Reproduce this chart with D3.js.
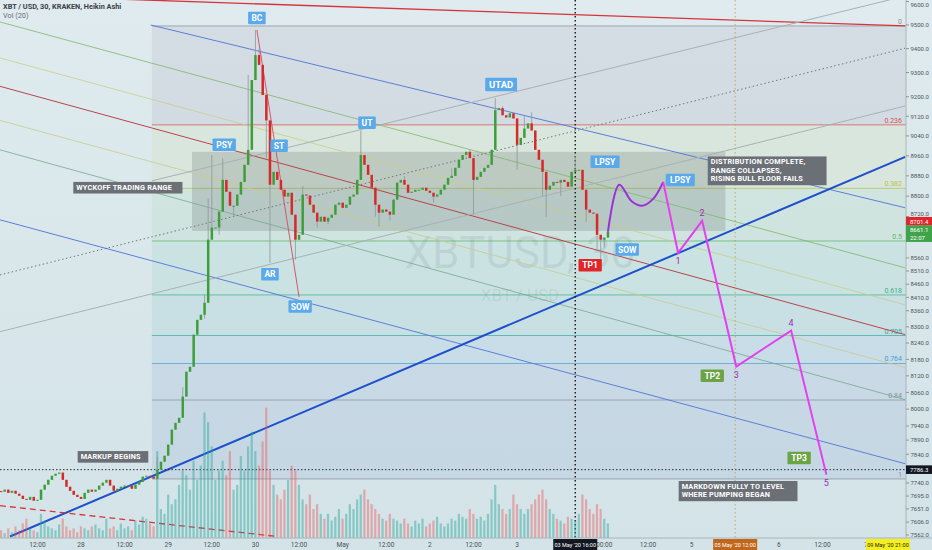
<!DOCTYPE html>
<html><head><meta charset="utf-8">
<script src="https://cdn.jsdelivr.net/npm/d3@7"></script>
<style>
html,body{margin:0;padding:0;background:#d8e6ea;overflow:hidden}
svg{display:block;font-family:Roboto,"Noto Sans",sans-serif}
</style></head><body>
<svg id="c" width="932" height="550"></svg>
<script>
// ---------- DATA ----------
const firstHour = 2; // hours after 2020-04-27 00:00 UTC, hourly candles
const closes = [
7710,7717,7706,7713,7703,7696,7685,7682,7692,7679,7682,
7717,7734,7751,7765,7772,7776,7751,7727,7713,7699,7692,7685,
7706,7717,7710,7717,7731,7741,7751,7731,7713,7720,7727,7731,
7731,7720,7734,7744,7762,7765,7762,7755,
7786,7814,7835,7874,7927,7951,
7969,8045,8135,8153,
8271,8326,8345,8390,
8630,8677,8677,8739,
8864,8817,8762,8762,
8806,8856,8924,8984,
9269,9373,9332,9207,
9103,8845,8896,8864,
8825,8798,8813,8727,8630,8649,
8806,8802,8766,8735,8700,8719,
8700,8715,8727,8766,8774,8754,8766,8798,8806,8864,
8963,8924,8884,8833,
8766,8735,8747,8739,8727,8786,
8853,8864,8845,8813,8817,8825,8825,8833,8821,8813,8798,8806,8825,8845,8872,8880,8912,8944,8963,8976,
8951,8864,8876,8896,8912,8924,8984,9145,9153,9124,
9115,9132,9111,9004,9032,9070,9091,9062,8984,8944,
8896,8825,8841,8856,8853,8864,8856,8837,8896,8904,
8904,8825,8747,8735,8731,8649,8630,8638,8661
];
const volume = [
80,50,100,60,120,80,150,200,100,80,60,
250,180,120,100,80,140,200,120,80,100,60,120,
100,80,120,140,100,80,200,100,120,80,150,100,
120,80,180,140,220,200,150,120,
900,300,250,450,350,400,
550,700,650,500,
800,600,750,1300,
1200,950,600,700,
800,650,900,500,
550,850,700,950,
1100,900,750,1000,
1350,700,550,450,
400,500,600,750,700,550,
400,350,450,300,350,250,
200,250,180,220,300,200,250,350,300,400,
450,500,400,350,
300,250,200,180,250,200,
180,150,200,150,120,180,150,200,120,150,180,220,150,120,150,200,180,250,220,200,
300,250,200,220,180,250,400,550,350,300,
250,300,450,350,300,250,300,350,400,450,
500,400,300,250,200,180,150,220,200,180,
250,450,400,300,250,350,300,200,150
];
// notable wicks: [hour, high, low]
const wicks = [
[45,7830,null],[52,8080,null],[58,8420,8330],[59,8790,8600],[60,8963,null],[62,null,8650],
[63,8950,null],[66,null,8720],[70,9290,null],[72,9479,null],[73,9400,null],[75,null,8950],
[76,null,8541],[79,8860,null],[83,null,8553],[85,8840,null],[89,null,8677],[92,null,8690],
[101,9062,null],[105,null,8720],[106,null,8680],[109,null,8705],[113,8880,null],[121,null,8775],
[126,8910,null],[131,8985,null],[132,null,8727],[138,9194,null],[140,9160,null],[144,null,8904],
[146,9120,null],[148,9136,null],[151,null,8800],[152,null,8719],[156,null,8800],[160,8960,null],
[163,null,8700],[166,null,8592],[167,null,8541],[168,null,8600]
];
// projected path (hour, price)
const purplePath = [[169,8661],[172.1,8845],[175.5,8780],[178.4,8762],[181.5,8790],[184.2,8856]];
const magentaPath = [[184.2,8856],[188.3,8579],[194.9,8703],[204.3,8154],[219.4,8286],[229.1,7769]];
const waveLabels = ["1","2","3","4","5"];
// fib retracement
const fibLevels = [0,0.236,0.382,0.5,0.618,0.705,0.764,0.84,1];
const fibText = ["0","0.236","0.382","0.5","0.618","0.705","0.764","0.84","1"];
const fibHigh = 9496, fibLow = 7754, fibStartHour = 43.5;
// trend lines: [hour, price] end points
const lines = [
 {a:[1.7,9628],b:[250.8,9496],c:"#d8333a",w:1.3},
 {a:[43.2,9500],b:[250.8,8754],c:"#5b7fd9",w:1},
 {a:[1.7,9513],b:[250.8,8522],c:"#7fb86a",w:0.8},
 {a:[1.7,9361],b:[250.8,8382],c:"#c7cf8a",w:0.8},
 {a:[1.7,9243],b:[250.8,8271],c:"#b8454a",w:1},
 {a:[1.7,9103],b:[250.8,8150],c:"#c8cc8e",w:0.8},
 {a:[1.7,8984],b:[250.8,8034],c:"#7aa88c",w:0.8},
 {a:[1.7,8707],b:[250.8,7807],c:"#5b7fd9",w:1},
 {a:[1.7,8282],b:[250.8,9162],c:"#a9b1b5",w:1},
 {a:[43.5,8860],b:[250.8,9624],c:"#a9b1b5",w:1},
 {a:[1.7,8495],b:[250.8,9402],c:"#6f777c",w:1,dash:"1.5,2.5"},
 {a:[4.46,7557],b:[250.8,8956],c:"#1c4fcc",w:2},
 {a:[1.7,7662],b:[77.95,7557],c:"#d8333a",w:1.3,dash:"6,4"},
 {a:[72.4,9479],b:[84.0,8412],c:"#d9536b",w:1}
];
const rangeBox = {h1:54.55,h2:201.3,p1:8976,p2:8664};
const tagsBlue = [["BC",72.4,9530],["PSY",63.4,9004],["ST",78.5,9000],["UT",102.7,9094],["UTAD",139.6,9250],
 ["LPSY",168.2,8936],["LPSY",188.9,8864],["AR",76,8498],["SOW",84.3,8376],["SOW",174.3,8592]];
const tagsRed = [["TP1",164.1,8532]];
const tagsGreen = [["TP2",197.7,8120],["TP3",221.6,7827]];
const notes = [
 {t:["WYCKOFF TRADING RANGE"],h:36.9,p:8833},
 {t:["MARKUP BEGINS"],h:32.8,p:7831},
 {t:["DISTRIBUTION COMPLETE,","RANGE COLLAPSES,","RISING BULL FLOOR FAILS"],h:212.8,p:8900},
 {t:["MARKDOWN FULLY TO LEVEL","WHERE PUMPING BEGAN"],h:204.8,p:7712}
];
const priceTicks = [9600,9500,9400,9300,9200,9120,9040,8960,8880,8800,8720,8560,8510,8460,8410,8360,8300,8240,8180,8120,8060,8000,7940,7890,7840,7740,7695,7651,7606,7562];
const timeTicks = [["2020-04-27T12:00Z","12:00"],["2020-04-28T00:00Z","28"],["2020-04-28T12:00Z","12:00"],["2020-04-29T00:00Z","29"],
 ["2020-04-29T12:00Z","12:00"],["2020-04-30T00:00Z","30"],["2020-04-30T12:00Z","12:00"],["2020-05-01T00:00Z","May"],["2020-05-01T12:00Z","12:00"],
 ["2020-05-02T00:00Z","2"],["2020-05-02T12:00Z","12:00"],["2020-05-03T00:00Z","3"],["2020-05-04T00:00Z","00:00"],["2020-05-04T12:00Z","12:00"],
 ["2020-05-05T00:00Z","5"],["2020-05-06T00:00Z","6"],["2020-05-06T12:00Z","12:00"],["2020-05-07T00:00Z","7"]];
const lastPrice = 8701.4, lastClose = 8661.1, countdown = "22:07", levelPrice = 7786.3;
const vLines = [{d:"2020-05-03T16:00Z",c:"#222",label:"03 May '20  16:00",bg:"#131722",fg:"#fff",w:1.5,dash:"1.5,2.5"},
 {d:"2020-05-05T12:00Z",c:"#b59a5a",label:"05 May '20  12:00",bg:"#c0671c",fg:"#fff",w:0.8,dash:"1.5,2.5"}];
const cursorLabel = "09 May '20  21:00";

// ---------- SCALES ----------
const W=932,H=550,PR=906,PB=538;
const H0=Date.UTC(2020,3,27);
const tAt=h=>new Date(H0+h*3600e3);
const x=d3.scaleUtc().domain([new Date(Date.UTC(2020,3,28)),new Date(Date.UTC(2020,4,7))]).range([81,866]);
const y=d3.scaleLog().domain([9500,7562]).range([25,535]);
const X=h=>x(tAt(h));
const vy=d3.scaleLinear().domain([0,1450]).range([PB,398]);

const svg=d3.select("#c");
const defs=svg.append("defs");
const g0=defs.append("linearGradient").attr("id","bg").attr("x1",0).attr("y1",0).attr("x2",0).attr("y2",1);
g0.append("stop").attr("offset","0").attr("stop-color","#dfebee");
g0.append("stop").attr("offset","1").attr("stop-color","#d3e3e8");
defs.append("clipPath").attr("id","clip").append("rect").attr("width",PR).attr("height",PB);
svg.append("rect").attr("width",W).attr("height",H).attr("fill","url(#bg)");

const plot=svg.append("g").attr("clip-path","url(#clip)");

// fib bands
const fibP=l=>fibHigh-(fibHigh-fibLow)*l;
const bandFill=["rgba(150,135,165,0.13)","rgba(200,215,120,0.13)","rgba(120,200,120,0.10)","rgba(80,190,150,0.10)",
 "rgba(60,170,170,0.10)","rgba(70,150,210,0.10)","rgba(90,130,200,0.11)","rgba(100,130,200,0.13)"];
const fibCol=["#8b8f99","#d9534f","#b7c34d","#5cb85c","#3cb48a","#3aa9a0","#4a9bd0","#8b8f99","#8b8f99"];
const fx0=X(fibStartHour);
fibLevels.slice(0,-1).forEach((l,i)=>{
  const y1=y(fibP(l)),y2=y(fibP(fibLevels[i+1]));
  plot.append("rect").attr("x",fx0).attr("y",y1).attr("width",PR-fx0).attr("height",y2-y1).attr("fill",bandFill[i]);
});
fibLevels.forEach((l,i)=>{
  const yy=y(fibP(l));
  plot.append("line").attr("x1",fx0).attr("x2",PR).attr("y1",yy).attr("y2",yy).attr("stroke",fibCol[i]).attr("stroke-width",0.8).attr("opacity",0.9);
  plot.append("text").attr("x",PR-4).attr("y",yy-2).attr("text-anchor","end").attr("font-size",7).attr("fill",fibCol[i]).text(fibText[i]);
});

// watermark
plot.append("text").attr("x",520).attr("y",268).attr("text-anchor","middle").attr("font-size",44).attr("fill","rgba(90,105,115,0.12)").text("XBTUSD, 30");
plot.append("text").attr("x",520).attr("y",301).attr("text-anchor","middle").attr("font-size",17).attr("fill","rgba(90,105,115,0.12)").text("XBT / USD");

// range box
plot.append("rect").attr("x",X(rangeBox.h1)).attr("y",y(rangeBox.p1)).attr("width",X(rangeBox.h2)-X(rangeBox.h1))
  .attr("height",y(rangeBox.p2)-y(rangeBox.p1)).attr("fill","rgba(85,88,92,0.2)");

// lines
lines.forEach(L=>{
  plot.append("line").attr("x1",X(L.a[0])).attr("y1",y(L.a[1])).attr("x2",X(L.b[0])).attr("y2",y(L.b[1]))
   .attr("stroke",L.c).attr("stroke-width",L.w).attr("stroke-dasharray",L.dash||null);
});
// horizontal level & vertical lines
plot.append("line").attr("x1",0).attr("x2",PR).attr("y1",y(levelPrice)).attr("y2",y(levelPrice)).attr("stroke","#2a2e35").attr("stroke-width",1).attr("stroke-dasharray","1.5,2");
vLines.forEach(v=>{const xx=x(new Date(v.d));
  plot.append("line").attr("x1",xx).attr("x2",xx).attr("y1",0).attr("y2",PB).attr("stroke",v.c).attr("stroke-width",v.w).attr("stroke-dasharray",v.dash);});

// candles
const candles=[];
closes.forEach((c,i)=>{const o=i? closes[i-1]:7712; candles.push({h:firstHour+i,o,c,hi:Math.max(o,c),lo:Math.min(o,c),v:volume[i]});});
wicks.forEach(([h,hi,lo])=>{const d=candles[h-firstHour]; if(!d)return; if(hi)d.hi=Math.max(d.hi,hi); if(lo)d.lo=Math.min(d.lo,lo);});
const bw=2.5;
// volume
plot.append("g").selectAll("rect").data(candles).join("rect")
 .attr("x",d=>X(d.h)-1.2).attr("width",2.2).attr("y",d=>vy(d.v)).attr("height",d=>PB-vy(d.v))
 .attr("fill",d=>d.c>=d.o?"rgba(38,166,154,0.45)":"rgba(239,83,80,0.42)");
const cg=plot.append("g");
cg.selectAll("line").data(candles).join("line").attr("x1",d=>X(d.h)).attr("x2",d=>X(d.h))
 .attr("y1",d=>y(d.hi)).attr("y2",d=>y(d.lo)).attr("stroke","#8e979a").attr("stroke-width",0.8);
cg.selectAll("rect").data(candles).join("rect").attr("x",d=>X(d.h)-bw/2).attr("width",bw)
 .attr("y",d=>y(Math.max(d.o,d.c))).attr("height",d=>Math.max(1,Math.abs(y(d.o)-y(d.c))))
 .attr("fill",d=>d.c>=d.o?"#3f9e3c":"#d42a2a");

// projection
plot.append("path").datum(purplePath).attr("d",d3.line().x(d=>X(d[0])).y(d=>y(d[1])).curve(d3.curveCatmullRom.alpha(0.5)))
 .attr("fill","none").attr("stroke","#9b30d9").attr("stroke-width",2);
plot.append("path").datum(magentaPath).attr("d",d3.line().x(d=>X(d[0])).y(d=>y(d[1])))
 .attr("fill","none").attr("stroke","#e43ff0").attr("stroke-width",2);
waveLabels.forEach((t,i)=>{const p=magentaPath[i+1]; const up=(i%2===1);
  plot.append("text").attr("x",X(p[0])).attr("y",y(p[1])+(up?-5:11)).attr("text-anchor","middle").attr("font-size",9).attr("fill","#9c2fb0").text(t);});

// tags
function tag(list,bg){list.forEach(([t,h,p])=>{
  const fs=t==="UTAD"?9.5:8.5; const w=t.length*fs*0.68+6, hh=fs+4;
  const gx=X(h), gy=y(p);
  plot.append("rect").attr("x",gx-w/2).attr("y",gy-hh/2).attr("width",w).attr("height",hh).attr("fill",bg).attr("rx",1);
  plot.append("text").attr("x",gx).attr("y",gy+fs*0.36).attr("text-anchor","middle").attr("font-size",fs).attr("font-weight",700).attr("fill","#fff").text(t);
});}
tag(tagsBlue,"#5aa9ea");tag(tagsRed,"#e0262b");tag(tagsGreen,"#6aa444");
notes.forEach(n=>{
  const fs=7.3, lh=8.6; const w=d3.max(n.t,s=>s.length)*fs*0.66+8, hh=n.t.length*lh+3;
  const cx=X(n.h), cy=y(n.p);
  plot.append("rect").attr("x",cx-w/2).attr("y",cy-hh/2).attr("width",w).attr("height",hh).attr("fill","#6b7077");
  n.t.forEach((s,i)=>plot.append("text").attr("x",cx-w/2+3).attr("y",cy-hh/2+lh*(i+1)-1).attr("font-size",fs).attr("font-weight",700).attr("fill","#fff").attr("letter-spacing",0.2).text(s));
});

// header
svg.append("text").attr("x",3).attr("y",9).attr("font-size",7.3).attr("font-weight",700).attr("fill","#3b3f46").text("XBT / USD, 30, KRAKEN, Heikin Ashi");
svg.append("text").attr("x",3).attr("y",18).attr("font-size",7.3).attr("fill","#6a6f76").text("Vol (20)");

// axes
svg.append("line").attr("x1",PR).attr("x2",PR).attr("y1",0).attr("y2",PB).attr("stroke","#a9b6ba");
svg.append("line").attr("x1",0).attr("x2",W).attr("y1",PB).attr("y2",PB).attr("stroke","#a9b6ba");
const specialTop=y(lastPrice)-4.3, specialBottom=y(lastClose)+10.3, levY=y(levelPrice);
priceTicks.forEach(p=>{const yy=y(p);
  svg.append("line").attr("x1",PR).attr("x2",PR+3).attr("y1",yy).attr("y2",yy).attr("stroke","#8a979b");
  let ty=Math.max(yy+2.3,6.5);
  if(yy>specialTop-6 && yy<=specialTop+3) ty=specialTop-0.8;          // push above the price labels
  else if(yy>specialTop+3 && yy<specialBottom) return;                  // fully covered
  if(Math.abs(yy-levY)<6) return;
  svg.append("text").attr("x",PR+4.5).attr("y",ty).attr("font-size",6).attr("fill","#4d5358").text(p.toFixed(1));});
function plabel(p,txt,bg,dy){const yy=y(p)+(dy||0);
  svg.append("rect").attr("x",PR).attr("y",yy-4.3).attr("width",W-PR).attr("height",8.6).attr("fill",bg);
  svg.append("text").attr("x",PR+4).attr("y",yy+2.3).attr("font-size",6).attr("fill","#fff").text(txt);}
plabel(lastPrice,lastPrice.toFixed(1),"#e0262b");
plabel(lastClose,lastClose.toFixed(1),"#3fa34a",-2);
plabel(lastClose,countdown,"#3fa34a",6);
plabel(levelPrice,levelPrice.toFixed(1),"#131722");
timeTicks.forEach(([d,t])=>{const xx=x(new Date(d));
  svg.append("text").attr("x",xx).attr("y",547).attr("text-anchor","middle").attr("font-size",6.6).attr("fill","#4d5358").text(t);});
function tlabel(xx,txt,bg,fg){const w=44;
  svg.append("rect").attr("x",xx-w/2).attr("y",539).attr("width",w).attr("height",11).attr("fill",bg);
  svg.append("text").attr("x",xx).attr("y",547).attr("text-anchor","middle").attr("font-size",5.5).attr("fill",fg).text(txt);}
vLines.forEach(v=>tlabel(x(new Date(v.d)),v.label,v.bg,v.fg));
tlabel(PR-18,cursorLabel,"#f5ef1e","#222");
</script></body></html>
